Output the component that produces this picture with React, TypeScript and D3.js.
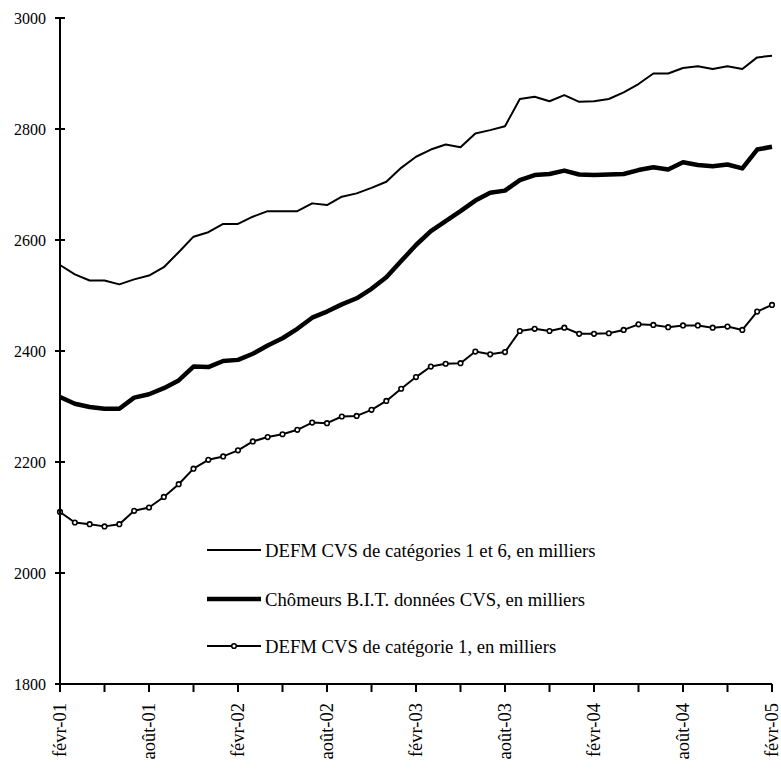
import React, { useRef, useEffect } from "react";
import * as d3 from "d3";

// monthly, févr-01 .. févr-05 (49 points)
const months: Date[] = d3.timeMonth.range(new Date(2001, 1, 1), new Date(2005, 1, 2));

const defm16 = [
  2555, 2538, 2527, 2527, 2520, 2529, 2536, 2551, 2578, 2606,
  2614, 2629, 2629, 2642, 2652, 2652, 2652, 2666, 2663, 2678,
  2684, 2694, 2705, 2730, 2750, 2763, 2772, 2767, 2792, 2798,
  2805, 2854, 2858, 2850, 2861, 2849, 2850, 2854, 2866, 2881,
  2900, 2900, 2910, 2913, 2908, 2913, 2908, 2929, 2932,
];

const chomeursBIT = [
  2317, 2305, 2299, 2296, 2296, 2316, 2322, 2333, 2347, 2372,
  2371, 2382, 2384, 2395, 2410, 2423, 2440, 2460, 2471, 2484,
  2495, 2512, 2533, 2562, 2591, 2616, 2634, 2652, 2671, 2685,
  2689, 2708, 2717, 2719, 2725, 2718, 2717, 2718, 2719, 2726,
  2731, 2727, 2740, 2735, 2733, 2736, 2729, 2763, 2768,
];

const defm1 = [
  2110, 2091, 2088, 2084, 2088, 2112, 2118, 2137, 2160, 2188,
  2204, 2210, 2221, 2237, 2245, 2250, 2258, 2271, 2270, 2282,
  2283, 2294, 2310, 2332, 2353, 2372, 2377, 2378, 2399, 2394,
  2398, 2436, 2440, 2436, 2442, 2431, 2431, 2432, 2438, 2448,
  2447, 2443, 2446, 2446, 2442, 2444, 2438, 2471, 2483,
];

const yTicks = [1800, 2000, 2200, 2400, 2600, 2800, 3000];
const xTickLabels = [
  "févr-01", "août-01", "févr-02", "août-02", "févr-03",
  "août-03", "févr-04", "août-04", "févr-05",
];
const legendLabels = [
  "DEFM CVS de catégories 1 et 6, en milliers",
  "Chômeurs B.I.T. données CVS, en milliers",
  "DEFM CVS de catégorie 1, en milliers",
];

const App: React.FC = () => {
  const svgRef = useRef<SVGSVGElement | null>(null);

  useEffect(() => {
    const svg = d3.select(svgRef.current);
    svg.selectAll("*").remove();
    const font = "'Liberation Serif', 'Times New Roman', serif";

    const idx = months.map((_, i) => i);
    const x = d3.scaleLinear().domain([0, months.length - 1]).range([60, 772]);
    const y = d3.scaleLinear().domain([1800, 3000]).range([684, 18]);

    const line = d3
      .line<number>()
      .x((_, i) => x(i))
      .y((d) => y(d));

    // series
    svg.append("path").datum(defm16).attr("d", line)
      .attr("fill", "none").attr("stroke", "#000").attr("stroke-width", 2)
      .attr("stroke-linejoin", "round");
    svg.append("path").datum(chomeursBIT).attr("d", line)
      .attr("fill", "none").attr("stroke", "#000").attr("stroke-width", 4.5)
      .attr("stroke-linejoin", "round");
    svg.append("path").datum(defm1).attr("d", line)
      .attr("fill", "none").attr("stroke", "#000").attr("stroke-width", 2)
      .attr("stroke-linejoin", "round");
    svg.append("g").selectAll("circle").data(defm1).join("circle")
      .attr("cx", (_, i) => x(i)).attr("cy", (d) => y(d)).attr("r", 2.3)
      .attr("fill", "#fff").attr("stroke", "#000").attr("stroke-width", 1.6);

    // y axis
    const yAxis = svg.append("g");
    yAxis.append("line").attr("x1", x(0)).attr("x2", x(0))
      .attr("y1", y(3000)).attr("y2", y(1800))
      .attr("stroke", "#000").attr("stroke-width", 2);
    yAxis.selectAll("line.tick").data(yTicks).join("line").attr("class", "tick")
      .attr("x1", x(0) - 5).attr("x2", x(0) + 5)
      .attr("y1", (d) => y(d)).attr("y2", (d) => y(d))
      .attr("stroke", "#000").attr("stroke-width", 2);
    yAxis.selectAll("text").data(yTicks).join("text")
      .attr("x", x(0) - 14).attr("y", (d) => y(d)).attr("dy", "0.35em")
      .attr("text-anchor", "end").attr("font-family", font).attr("font-size", 16)
      .text((d) => d);

    // x axis
    const xAxis = svg.append("g");
    xAxis.append("line").attr("x1", x(0)).attr("x2", x(months.length - 1))
      .attr("y1", y(1800)).attr("y2", y(1800))
      .attr("stroke", "#000").attr("stroke-width", 2);
    const tickIdx = idx.filter((i) => i % 3 === 0);
    xAxis.selectAll("line.tick").data(tickIdx).join("line").attr("class", "tick")
      .attr("x1", (d) => x(d)).attr("x2", (d) => x(d))
      .attr("y1", y(1800)).attr("y2", y(1800) + 8)
      .attr("stroke", "#000").attr("stroke-width", 2);
    xAxis.selectAll("text").data(xTickLabels).join("text")
      .attr("transform", (_, i) => `translate(${x(i * 6)},${y(1800) + 19}) rotate(-90)`)
      .attr("dy", "0.35em").attr("text-anchor", "end")
      .attr("font-family", font).attr("font-size", 18.5)
      .text((d) => d);

    // legend
    const legend = svg.append("g");
    const rowsY = [550, 599, 646];
    const widths = [2, 4.5, 2];
    legendLabels.forEach((label, i) => {
      const g = legend.append("g").attr("transform", `translate(0,${rowsY[i]})`);
      g.append("line").attr("x1", 207).attr("x2", 261).attr("y1", 0).attr("y2", 0)
        .attr("stroke", "#000").attr("stroke-width", widths[i]);
      if (i === 2) {
        g.append("circle").attr("cx", 234).attr("cy", 0).attr("r", 2.3)
          .attr("fill", "#fff").attr("stroke", "#000").attr("stroke-width", 1.6);
      }
      g.append("text").attr("x", 265).attr("y", 0).attr("dy", "0.35em")
        .attr("font-family", font).attr("font-size", 18.7)
        .text(label);
    });
  }, []);

  return (
    <div style={{ position: "absolute", left: 0, top: 0 }}>
      <svg ref={svgRef} width={781} height={769} style={{ display: "block", background: "#fff" }} />
    </div>
  );
};

export default App;
